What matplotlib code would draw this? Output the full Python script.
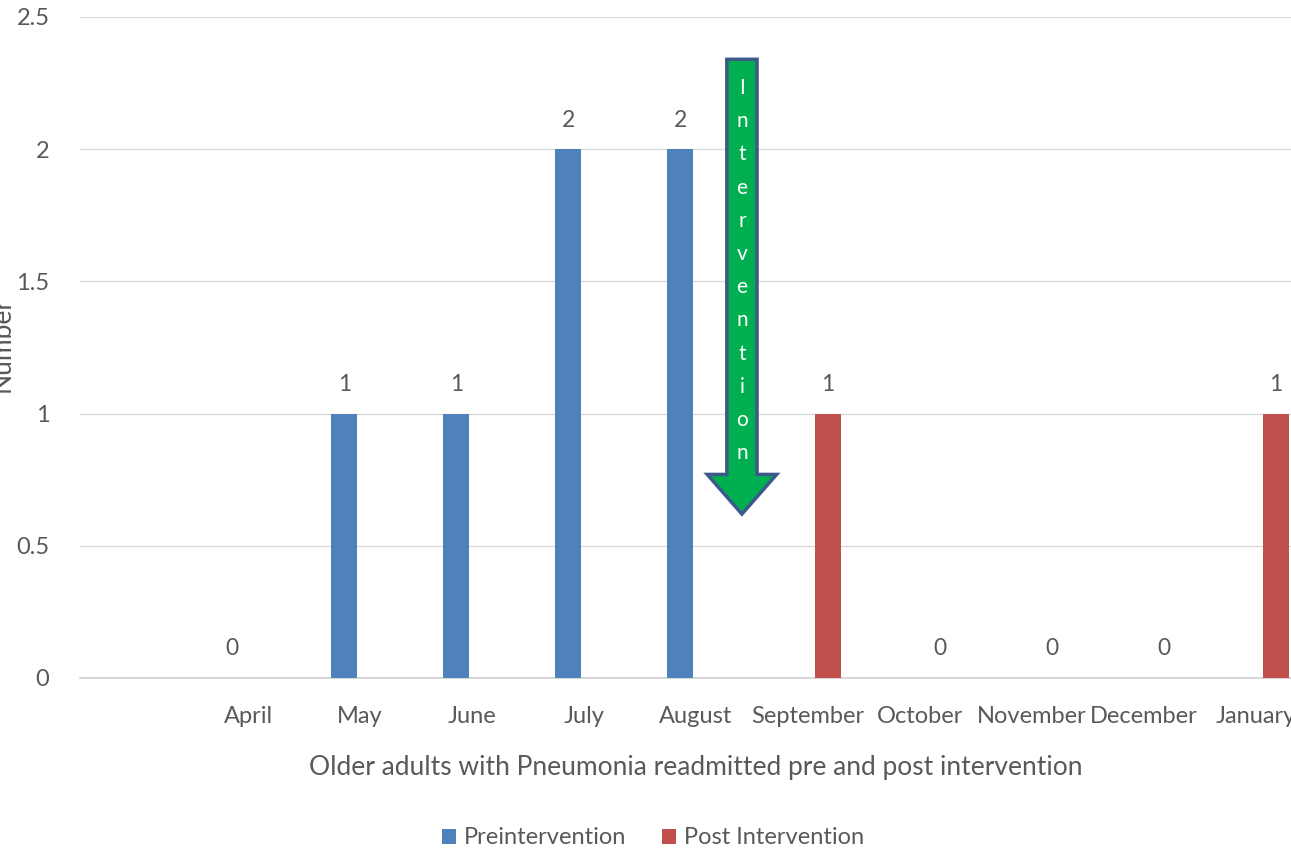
import numpy as np
import matplotlib.pyplot as plt
from matplotlib.patches import Polygon

plt.rcParams['font.family'] = ['Lato', 'DejaVu Sans']

months = ["April", "May", "June", "July", "August", "September",
          "October", "November", "December", "January"]
pre_values = [0, 1, 1, 2, 2, np.nan, np.nan, np.nan, np.nan, np.nan]
post_values = [np.nan, np.nan, np.nan, np.nan, np.nan, 1, 0, 0, 0, 1]
series_names = ["Preintervention", "Post Intervention"]
y_ticks = [0, 0.5, 1, 1.5, 2, 2.5]
y_tick_labels = ["0", "0.5", "1", "1.5", "2", "2.5"]

blue = "#4F81BD"
red = "#C0504D"
text_grey = "#595959"
grid_grey = "#D9D9D9"

W, H = 1291, 867
fig = plt.figure(figsize=(W / 100, H / 100), dpi=100)
left_px, right_px, top_px, bottom_px = 80, 1312, 17, 678
ax = fig.add_axes([left_px / W, 1 - bottom_px / H,
                   (right_px - left_px) / W, (bottom_px - top_px) / H])

x = np.arange(len(months))
offset = 0.16
width = 0.235
pre_bars = ax.bar(x - offset + 0.02, pre_values, width, color=blue, label=series_names[0], zorder=3)
post_bars = ax.bar(x + offset + 0.02, post_values, width, color=red, label=series_names[1], zorder=3)

for bars, vals in ((pre_bars, pre_values), (post_bars, post_values)):
    for rect, v in zip(bars, vals):
        if np.isnan(v):
            continue
        ax.text(rect.get_x() + rect.get_width() / 2, v + 0.07, f"{v:g}",
                ha="center", va="bottom", fontsize=16.5, color=text_grey)

ax.set_xlim(-1.5, 9.5)
ax.set_ylim(0, 2.5)
ax.set_yticks(y_ticks)
ax.set_yticklabels(y_tick_labels)
ax.set_xticks(x)
ax.set_xticklabels(months)
ax.tick_params(axis="both", length=0, labelsize=17, colors=text_grey)
ax.tick_params(axis="y", pad=22)
ax.tick_params(axis="x", pad=20)
ax.grid(axis="y", color=grid_grey, linewidth=1, zorder=0)
for side in ("top", "right", "left"):
    ax.spines[side].set_visible(False)
ax.spines["bottom"].set_color("#D0D0D0")
ax.spines["bottom"].set_linewidth(1.2)

ax.set_xlabel("Older adults with Pneumonia readmitted pre and post intervention",
              fontsize=19, color=text_grey, labelpad=20)
fig.text(2 / W, 1 - 345 / H, "Number", rotation=90, ha="center", va="center",
         fontsize=19, color=text_grey)

# Intervention marker arrow between August and September
cx = 4.41
shaft_half = 0.135
head_half = 0.31
top_y, head_y, tip_y = 2.34, 0.77, 0.62
arrow = Polygon([(cx - shaft_half, top_y), (cx + shaft_half, top_y),
                 (cx + shaft_half, head_y), (cx + head_half, head_y),
                 (cx, tip_y), (cx - head_half, head_y),
                 (cx - shaft_half, head_y)],
                closed=True, facecolor="#00B050", edgecolor="#3B5A8A",
                linewidth=2.5, zorder=5, clip_on=False)
ax.add_patch(arrow)
word = "Intervention"
letter_top, letter_step = 2.231, 0.1255
for i, ch in enumerate(word):
    ax.text(cx, letter_top - i * letter_step, ch, ha="center", va="center",
            fontsize=15, color="white", zorder=6)

handles, labels = ax.get_legend_handles_labels()
leg = fig.legend(handles, labels, loc="center", bbox_to_anchor=(653 / W, 1 - 838 / H),
                 ncol=2, frameon=False, fontsize=17, handlelength=0.6,
                 handleheight=0.6, handletextpad=0.35, columnspacing=1.5)
for t in leg.get_texts():
    t.set_color(text_grey)

fig.savefig("out.png", dpi=100)
